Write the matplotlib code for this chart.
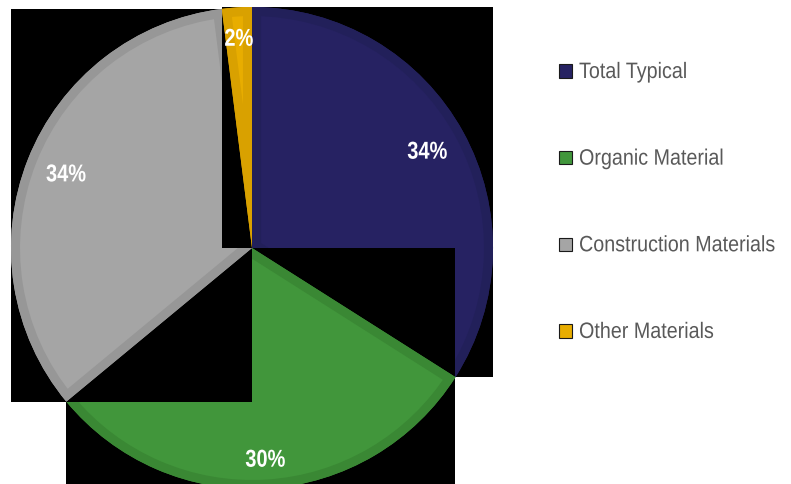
import matplotlib
matplotlib.use('Agg')
import numpy as np
import matplotlib.pyplot as plt
from matplotlib.patches import Rectangle, Patch, Wedge
from matplotlib.patheffects import AbstractPathEffect
from matplotlib.transforms import Affine2D

categories = ['Total Typical', 'Organic Material', 'Construction Materials', 'Other Materials']
values = [34, 30, 34, 2]
colors = ['#262262', '#41963b', '#a5a5a5', '#e8ad00']
band_colors = ['#22205a', '#3a8834', '#979797', '#d9a100']

FONT = ['Liberation Sans', 'DejaVu Sans']


class Tall(AbstractPathEffect):
    """Vertically stretch glyphs so a smaller font looks like a narrow one."""
    def __init__(self, sy=1.15, center=False):
        super().__init__()
        self.sy = sy
        self.center = center

    def draw_path(self, renderer, gc, tpath, affine, rgbFace=None):
        c = 0.0
        if self.center:
            ext = tpath.get_extents()
            c = (ext.y0 + ext.y1) / 2
        pre = Affine2D().translate(0, -c).scale(1, self.sy).translate(0, c)
        renderer.draw_path(gc, tpath, pre + affine, rgbFace)


W, H = 791, 484
fig = plt.figure(figsize=(W / 100, H / 100), dpi=100)
fig.patch.set_facecolor('white')
cx, cy, R = 252, 248, 241
ax = fig.add_axes([(cx - R) / W, (H - cy - R) / H, 2 * R / W, 2 * R / H])

wedges, texts, autotexts = ax.pie(
    values, colors=colors, startangle=90, counterclock=False, radius=1,
    autopct='%d%%', pctdistance=0.85,
    textprops=dict(color='white', fontsize=14.4, fontweight='bold', family=FONT))
ax.set_xlim(-1, 1)
ax.set_ylim(-1, 1)
ax.set_aspect('equal')
ax.axis('off')

label_dist = [0.83, 0.88, 0.83, 0.87]
for i, w in enumerate(wedges):
    z = 2 * i + 1
    ext = w.get_path().get_extents()
    box = Rectangle((ext.x0, ext.y0), ext.width, ext.height, facecolor='black',
                    edgecolor='none', zorder=z - 0.5)
    ax.add_patch(box)
    w.set_zorder(z)
    w.set_edgecolor('none')
    band = Wedge((0, 0), 1, w.theta1, w.theta2, facecolor='none',
                 edgecolor=band_colors[i], linewidth=13, zorder=z + 0.1)
    ax.add_patch(band)
    band.set_clip_path(w)

for i, t in enumerate(autotexts):
    w = wedges[i]
    ang = np.deg2rad((w.theta1 + w.theta2) / 2)
    t.set_position((label_dist[i] * np.cos(ang), label_dist[i] * np.sin(ang)))
    t.set_zorder(20)
    t.set_path_effects([Tall(1.22, center=True)])

handles = [Patch(facecolor=c, edgecolor='#1a1a1a', linewidth=0.8) for c in colors]
leg = fig.legend(handles=handles, labels=categories, loc='upper left',
                 bbox_to_anchor=(559 / W, 1 - 63 / H), frameon=False,
                 prop=dict(family=FONT, size=14.2), labelcolor='#595959',
                 handlelength=0.655, handleheight=0.655, handletextpad=0.36,
                 labelspacing=3.43, borderpad=0, borderaxespad=0)
for t in leg.get_texts():
    t.set_path_effects([Tall(1.13)])

fig.savefig('out.png', dpi=100, facecolor='white')
